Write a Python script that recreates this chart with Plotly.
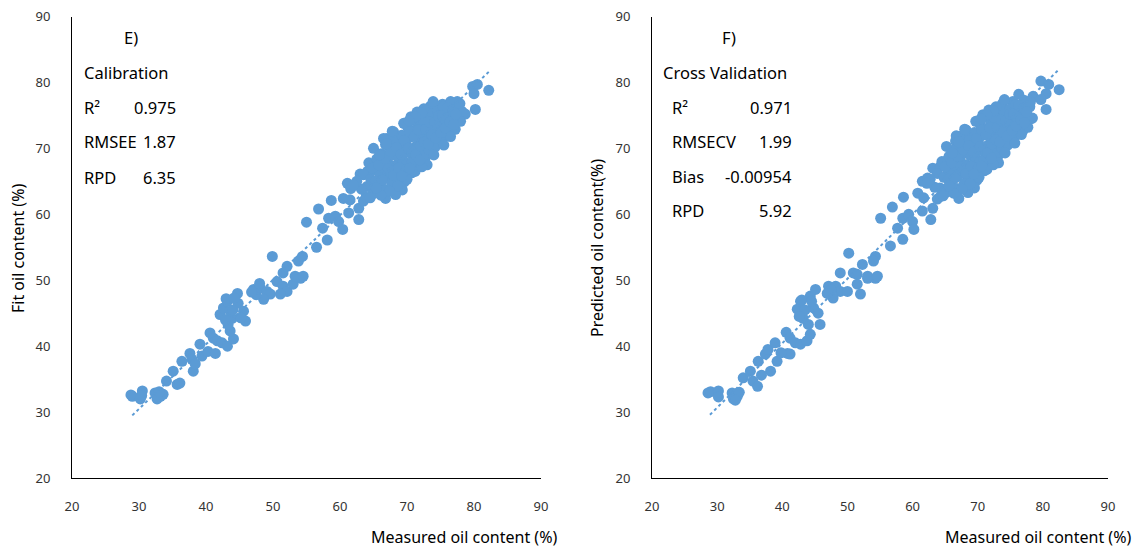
import plotly.graph_objects as go

# ---------------- data: Calibration (panel E) ----------------
cal_measured = [
    29.0, 28.8, 30.5, 30.2, 30.4, 32.4, 33.2, 33.6, 32.7, 33.0, 34.1, 35.7, 36.1, 35.1, 36.4,
    37.6, 37.9, 38.1, 38.4, 39.1, 39.4, 40.3, 41.4, 40.6, 41.1, 41.7, 42.4, 43.2, 44.1, 43.6,
    43.3, 43.9, 42.1, 42.6, 43.2, 44.7, 44.8, 45.6, 45.9, 43.6, 43.0, 44.2, 44.0, 42.9, 45.2,
    47.1, 48.1, 49.1, 49.6, 48.6, 50.6, 51.5, 52.1, 51.1, 53.0, 54.1, 51.5, 49.9, 47.5, 46.8, 48.0,
    53.3, 54.5, 52.1, 53.8, 54.4, 56.5, 58.1, 57.4, 55.0, 56.8, 58.7, 60.5, 61.1, 58.3, 59.3,
    59.8, 60.4, 61.3, 62.8, 62.8, 63.5, 63.9, 61.6, 63.0, 64.1, 65.0, 66.0, 66.8, 65.6, 66.8, 69.0,
    82.2, 79.8, 80.5, 80.0, 80.2, 78.7, 78.0, 77.5, 76.5, 75.3, 74.0, 73.5,
    63.5, 64.0, 64.3, 64.6, 64.9, 65.2, 65.5, 65.7, 66.0, 66.2, 66.4, 66.6, 66.9, 67.1, 67.3,
    67.5, 67.7, 67.9, 68.1, 68.3, 68.5, 68.7, 68.9, 69.0, 69.2, 69.4, 69.6, 69.8, 70.0, 70.1,
    70.3, 70.5, 70.7, 70.9, 71.0, 71.2, 71.4, 71.6, 71.8, 72.0, 72.1, 72.3, 72.5, 72.7, 72.9,
    73.1, 73.3, 73.5, 73.6, 73.8, 74.0, 74.2, 74.4, 74.6, 74.8, 75.0, 75.2, 75.4, 75.6, 75.8,
    76.0, 76.3, 76.6, 76.9, 77.2, 77.5, 77.8, 78.2, 67.0, 68.0, 69.5, 70.6, 71.5, 72.5, 65.0,
    66.5, 73.0, 74.0, 71.2, 69.3, 68.3, 70.0, 72.2, 75.5, 76.5, 64.5, 63.2, 62.5, 62.0, 61.5,
    64.8, 65.3, 65.8, 66.3, 66.7, 67.2, 67.6, 68.0, 68.4, 68.8, 69.1, 69.6, 69.9, 70.2, 70.4,
    70.8, 71.1, 71.3, 71.7, 72.0, 72.4, 72.6, 72.8, 73.2, 73.4, 73.7, 74.1, 74.3, 74.7, 75.1,
    75.3, 75.7, 76.1, 76.4, 76.8, 77.0, 77.3, 77.9, 69.2, 70.4, 71.9, 68.6, 67.4, 66.1, 65.4,
    67.8, 66.9, 65.9, 73.9, 72.2, 71.2, 70.3,
]
cal_fit = [
    32.4, 32.6, 33.2, 32.0, 32.5, 32.9, 32.4, 32.7, 32.0, 33.1, 34.7, 34.2, 34.4, 36.2, 37.7,
    38.9, 38.0, 36.2, 37.3, 40.3, 38.5, 39.2, 38.9, 42.0, 41.2, 40.8, 40.5, 40.0, 41.1, 42.3,
    43.3, 44.2, 44.8, 45.8, 46.8, 48.0, 46.5, 45.3, 43.8, 45.3, 47.2, 47.3, 45.5, 44.0, 44.3,
    48.6, 48.8, 48.3, 47.9, 47.1, 49.8, 49.1, 48.3, 47.9, 49.4, 50.3, 51.1, 53.6, 47.8, 48.2, 49.5,
    50.6, 50.6, 52.1, 52.9, 53.6, 55.0, 56.1, 57.9, 58.8, 60.8, 62.1, 62.4, 64.7, 59.4, 59.7,
    58.9, 57.7, 60.2, 59.2, 60.9, 62.0, 62.6, 63.9, 66.1, 66.5, 67.6, 69.1, 70.6, 63.5, 62.4, 64.5,
    78.8, 79.4, 79.7, 78.3, 75.9, 75.2, 74.1, 77.1, 77.1, 76.7, 76.1, 76.4,
    66.0, 64.2, 67.8, 65.3, 63.1, 66.7, 68.4, 64.6, 66.0, 69.2, 67.1, 63.8, 65.5, 68.0, 70.3,
    66.4, 64.8, 69.0, 67.3, 71.2, 65.7, 68.6, 70.0, 66.9, 72.0, 68.2, 64.9, 70.8, 67.6, 73.2,
    69.4, 71.7, 66.3, 68.9, 72.6, 70.2, 74.0, 67.8, 71.1, 69.3, 73.5, 72.2, 70.6, 68.5, 74.6,
    71.9, 69.8, 73.0, 75.2, 71.0, 72.8, 70.2, 74.0, 75.7, 72.3, 73.6, 71.4, 76.3, 74.5, 72.7,
    75.3, 73.5, 77.0, 74.6, 72.9, 76.0, 74.2, 75.6, 71.5, 72.5, 73.8, 74.8, 75.5, 76.0, 70.0,
    71.5, 67.5, 69.0, 66.5, 63.7, 63.0, 65.3, 67.2, 70.5, 71.8, 62.5, 63.8, 65.0, 64.4, 62.2,
    67.0, 65.0, 67.5, 65.2, 68.5, 66.9, 69.5, 65.9, 70.1, 67.0, 69.1, 71.2, 66.8, 70.0, 72.5,
    68.0, 71.8, 69.0, 72.8, 70.4, 74.4, 71.0, 72.9, 70.7, 74.0, 72.1, 73.9, 71.6, 74.9, 72.4,
    75.0, 73.1, 76.2, 74.0, 75.8, 73.6, 75.2, 76.8, 65.8, 67.0, 68.2, 64.3, 63.5, 62.9, 64.0,
    72.6, 70.7, 69.0, 77.1, 75.4, 74.8, 74.2,
]
cal_trend_x = [29.0, 82.4]
cal_trend_y = [29.5, 81.8]

# ---------------- data: Cross validation (panel F) ----------------
cv_measured = [
    28.6, 29.0, 30.2, 30.2, 32.3, 33.1, 32.5, 33.4, 32.8, 34.0, 35.5, 36.2, 35.1, 36.3, 37.4,
    37.8, 38.2, 38.9, 39.2, 40.8, 41.2, 40.6, 41.2, 42.0, 42.8, 43.8, 44.3, 44.0, 43.2, 42.3,
    42.8, 44.3, 45.1, 44.8, 45.5, 45.8, 43.0, 43.5, 42.6, 44.5, 36.8, 39.8,
    47.1, 48.2, 48.9, 47.8, 50.0, 51.5, 52.0, 53.1, 54.3, 50.9, 48.9, 50.2, 47.5, 46.9,
    55.1, 56.9, 58.6, 60.8, 61.5, 62.3, 57.7, 58.5, 56.6, 54.3, 54.0, 52.3, 51.5, 53.1, 54.6,
    58.5, 59.4, 60.0, 60.2, 61.5, 62.8, 63.1, 63.8, 64.3, 63.1, 64.3, 65.4, 66.3, 66.9, 65.8,
    67.1, 69.4, 68.5,
    82.5, 79.7, 80.9, 80.5, 78.5, 79.7, 80.5, 78.2, 76.9, 76.3, 75.4, 73.8, 66.6, 66.3,
    63.8, 64.2, 64.5, 64.8, 65.1, 65.4, 65.6, 65.9, 66.1, 66.4, 66.6, 66.8, 67.0, 67.3, 67.5,
    67.7, 67.9, 68.1, 68.3, 68.5, 68.7, 68.9, 69.1, 69.3, 69.5, 69.7, 69.9, 70.1, 70.3, 70.4,
    70.6, 70.8, 71.0, 71.2, 71.4, 71.6, 71.8, 72.0, 72.2, 72.4, 72.5, 72.7, 72.9, 73.1, 73.3,
    73.5, 73.7, 73.9, 74.0, 74.2, 74.4, 74.6, 74.8, 75.0, 75.2, 75.4, 75.6, 75.8, 76.0, 76.2,
    76.5, 76.8, 77.1, 77.4, 77.7, 78.0, 78.4, 67.2, 68.2, 69.7, 70.8, 71.7, 72.8, 65.2, 66.7,
    73.2, 74.2, 71.4, 69.5, 68.5, 70.2, 72.4, 75.7, 76.7, 64.7, 63.4, 62.7, 62.2, 61.7,
    65.0, 65.5, 66.0, 66.5, 66.9, 67.4, 67.8, 68.2, 68.6, 69.0, 69.3, 69.8, 70.1, 70.4, 70.6,
    71.0, 71.3, 71.5, 71.9, 72.2, 72.6, 72.8, 73.0, 73.4, 73.6, 73.9, 74.3, 74.5, 74.9, 75.3,
    75.5, 75.9, 76.3, 76.6, 77.0, 77.2, 77.5, 78.1, 69.4, 70.6, 72.1, 68.8, 67.6, 66.3, 65.6,
    68.0, 67.1, 66.1, 74.1, 72.4, 71.4, 70.5,
]
cv_predicted = [
    32.9, 33.1, 33.2, 32.3, 32.9, 32.4, 32.0, 33.0, 31.8, 35.2, 34.7, 33.9, 36.2, 37.7, 38.8,
    39.5, 36.2, 40.5, 37.7, 38.9, 38.8, 42.1, 41.2, 40.5, 40.3, 40.8, 41.8, 43.3, 44.2, 45.6,
    46.8, 47.6, 48.6, 45.8, 45.0, 43.3, 47.0, 45.5, 44.5, 46.8, 35.6, 39.0,
    49.1, 49.1, 48.3, 47.3, 48.3, 49.4, 47.9, 50.3, 50.3, 51.1, 51.1, 54.1, 48.5, 48.0,
    59.4, 61.1, 62.6, 63.2, 65.0, 65.5, 57.9, 56.2, 55.2, 53.6, 52.9, 52.4, 50.9, 50.6, 50.6,
    59.4, 60.0, 58.9, 57.7, 60.5, 59.2, 60.9, 62.3, 62.7, 67.0, 67.3, 68.3, 69.1, 70.6, 63.9,
    62.4, 64.5, 65.5,
    78.9, 80.2, 79.7, 78.3, 77.9, 77.4, 75.9, 74.5, 72.6, 78.2, 77.1, 76.8, 71.1, 69.5,
    66.2, 64.0, 68.0, 65.6, 63.3, 66.9, 68.8, 64.8, 66.3, 69.8, 67.4, 63.9, 65.8, 68.3, 70.6,
    66.6, 64.6, 69.3, 67.5, 71.6, 65.9, 68.9, 70.4, 67.1, 72.4, 68.5, 65.2, 71.1, 67.9, 73.6,
    69.7, 72.0, 66.6, 69.2, 73.0, 70.5, 74.4, 68.1, 71.4, 69.6, 73.9, 72.5, 70.9, 68.8, 75.0,
    72.2, 70.1, 73.3, 75.6, 71.3, 73.1, 70.5, 74.3, 76.0, 72.6, 73.9, 71.7, 76.6, 74.8, 73.0,
    75.6, 73.8, 77.3, 74.9, 73.2, 76.3, 74.6, 71.8, 72.8, 74.1, 75.1, 75.8, 76.3, 70.3, 71.9,
    67.8, 69.3, 66.8, 64.0, 63.3, 65.6, 67.5, 70.8, 72.1, 62.8, 64.1, 65.3, 64.7, 62.5,
    67.2, 65.3, 67.8, 65.5, 68.8, 67.2, 69.8, 66.2, 70.4, 67.3, 69.4, 71.5, 67.1, 70.3, 72.8,
    68.3, 72.1, 69.3, 73.1, 70.7, 74.7, 71.3, 73.2, 71.0, 74.3, 72.4, 74.2, 71.9, 75.2, 72.7,
    75.3, 73.4, 76.5, 74.3, 76.1, 73.9, 75.5, 77.1, 66.1, 67.3, 68.5, 64.6, 63.8, 63.2, 64.3,
    72.9, 71.0, 69.3, 77.4, 75.7, 75.1, 74.5,
]
cv_trend_x = [28.9, 82.5]
cv_trend_y = [29.6, 82.0]

axis_ticks = [20, 30, 40, 50, 60, 70, 80, 90]

cal_stats_labels = ["R²", "RMSEE", "RPD"]
cal_stats_values = ["0.975", "1.87", "6.35"]
cv_stats_labels = ["R²", "RMSECV", "Bias", "RPD"]
cv_stats_values = ["0.971", "1.99", "-0.00954", "5.92"]

# ---------------- figure ----------------
BLUE = "#5B9BD5"
FONT = "Noto Sans"
W, H = 1135, 547

fig = go.Figure()
fig.add_trace(go.Scatter(x=cal_measured, y=cal_fit, mode="markers",
                         marker=dict(color=BLUE, size=11, line=dict(width=0)),
                         xaxis="x", yaxis="y", showlegend=False))
fig.add_trace(go.Scatter(x=cal_trend_x, y=cal_trend_y, mode="lines",
                         line=dict(color=BLUE, width=2, dash="dot"),
                         xaxis="x", yaxis="y", showlegend=False))
fig.add_trace(go.Scatter(x=cv_measured, y=cv_predicted, mode="markers",
                         marker=dict(color=BLUE, size=11, line=dict(width=0)),
                         xaxis="x2", yaxis="y2", showlegend=False))
fig.add_trace(go.Scatter(x=cv_trend_x, y=cv_trend_y, mode="lines",
                         line=dict(color=BLUE, width=2, dash="dot"),
                         xaxis="x2", yaxis="y2", showlegend=False))

def xa(domain, anchor):
    return dict(domain=domain, anchor=anchor, range=[20, 90], tickvals=axis_ticks,
                showgrid=False, zeroline=False, showline=True, linecolor="black",
                linewidth=1, ticks="", ticklabelstandoff=16, automargin=False,
                tickfont=dict(family=FONT, size=13, color="#333333"))

def ya(domain, anchor):
    return dict(domain=domain, anchor=anchor, range=[20, 90], tickvals=axis_ticks,
                showgrid=False, zeroline=False, showline=True, linecolor="black",
                linewidth=1, ticks="", ticklabelstandoff=18, automargin=False,
                tickfont=dict(family=FONT, size=13, color="#333333"))

ydom = [(H - 478) / H, (H - 16.5) / H]
fig.update_layout(
    width=W, height=H, margin=dict(l=0, r=0, t=0, b=0, autoexpand=False),
    paper_bgcolor="white", plot_bgcolor="white",
    xaxis=xa([72 / W, 541 / W], "y"),
    yaxis=ya(ydom, "x"),
    xaxis2=xa([652 / W, 1108 / W], "y2"),
    yaxis2=ya(ydom, "x2"),
)

ann = []
def txt(x, y, s, anchor="left", size=16.5, angle=0):
    ann.append(dict(x=x / W, y=1 - y / H, xref="paper", yref="paper", text=s,
                    showarrow=False, xanchor=anchor, yanchor="middle", textangle=angle,
                    borderpad=0, font=dict(family=FONT, size=size, color="black")))

# panel E texts
txt(131, 38, "E)", "center")
txt(83, 73, "Calibration")
for i, (lab, val) in enumerate(zip(cal_stats_labels, cal_stats_values)):
    yy = 107 + i * 35
    txt(83, yy, lab)
    txt(177, yy, val, "right")

# panel F texts
txt(729, 37, "F)", "center")
txt(662, 72, "Cross Validation")
for i, (lab, val) in enumerate(zip(cv_stats_labels, cv_stats_values)):
    yy = 107 + i * 34.5
    txt(671, yy, lab)
    txt(793, yy, val, "right")

# axis titles
txt(464, 537, "Measured oil content (%)", "center", 16)
txt(1038, 537, "Measured oil content (%)", "center", 16)
txt(18, 249, "Fit oil content (%)", "center", 16, -90)
txt(597, 248, "Predicted oil content(%)", "center", 16, -90)

fig.update_layout(annotations=ann)
fig.write_html("out.html")
